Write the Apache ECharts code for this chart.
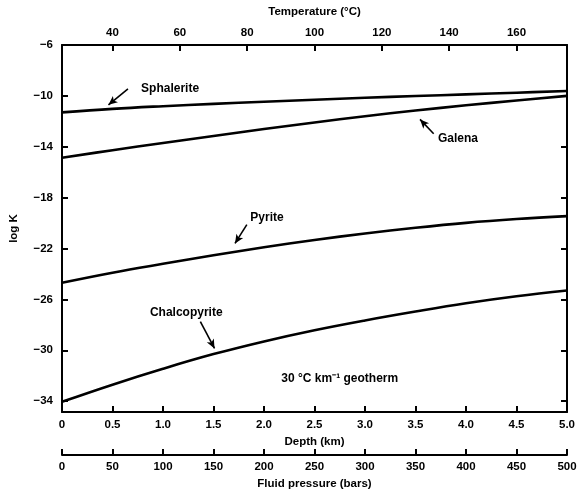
<!DOCTYPE html>
<html>
<head>
<meta charset="utf-8">
<script src="https://cdn.jsdelivr.net/npm/echarts@6/dist/echarts.min.js"></script>
<style>
html,body{margin:0;padding:0;background:#fff;}
#c{width:582px;height:491px;}
</style>
</head>
<body>
<div id="c"></div>
<script>
// ---- data ----
var depthKm = [0, 0.5, 1.0, 1.5, 2.0, 2.5, 3.0, 3.5, 4.0, 4.5, 5.0];
var sphalerite   = [-11.3, -11.02, -10.81, -10.63, -10.46, -10.3, -10.15, -10.01, -9.88, -9.75, -9.62];
var galena       = [-14.86, -14.27, -13.7, -13.15, -12.61, -12.09, -11.6, -11.15, -10.74, -10.36, -10.0];
var pyrite       = [-24.69, -23.9, -23.2, -22.53, -21.9, -21.33, -20.82, -20.37, -19.98, -19.68, -19.45];
var chalcopyrite = [-34.05, -32.7, -31.45, -30.3, -29.3, -28.42, -27.65, -26.95, -26.3, -25.75, -25.3];
var logKTicks = [-34, -30, -26, -22, -18, -14, -10, -6];
var tempTicks = [40, 60, 80, 100, 120, 140, 160];
var pressureTicks = [0, 50, 100, 150, 200, 250, 300, 350, 400, 450, 500];

function pairs(vals){ return depthKm.map(function(d,i){ return [d, vals[i]]; }); }

var FONT = 'Liberation Sans';
var txt = {color:'#000', fontFamily: FONT, fontWeight:'bold', fontSize: 11.5};
var axisLine = {show:true, onZero:false, lineStyle:{color:'#000', width:2}};
var tick = {show:true, inside:true, length:6, lineStyle:{color:'#000', width:2}};

function annot(text, x, y){
  return {coord:[x,y], symbol:'rect', symbolSize:1, itemStyle:{color:'rgba(0,0,0,0)'},
    label:{show:true, position:'inside', formatter:text, color:'#000', fontFamily:FONT, fontWeight:'bold', fontSize:12}};
}
function arrow(x1,y1,x2,y2){
  return [{coord:[x1,y1]},{coord:[x2,y2]}];
}
function curve(name, vals, arrows, labels){
  return {
    name:name, type:'line', xAxisIndex:0, yAxisIndex:0, smooth:0.4, showSymbol:false,
    data: pairs(vals), lineStyle:{color:'#000', width:2.6}, itemStyle:{color:'#000'}, silent:true,
    markLine:{silent:true, symbol:['none','arrow'], symbolSize:[6,9], animation:false,
      lineStyle:{color:'#000', width:1.6, type:'solid'}, label:{show:false}, data: arrows},
    markPoint:{silent:true, animation:false, data: labels}
  };
}

var chart = echarts.init(document.getElementById('c'), null, {renderer:'canvas'});
chart.setOption({
  animation:false,
  backgroundColor:'#fff',
  grid:{left:62, right:15, top:45, bottom:79, containLabel:false, outerBoundsMode:'none'},
  xAxis:[
    {type:'value', position:'bottom', min:0, max:5, interval:0.5,
     name:'Depth (km)', nameLocation:'middle', nameGap:21, nameTextStyle:txt,
     axisLine:axisLine, axisTick:tick, splitLine:{show:false},
     axisLabel:Object.assign({margin:7, formatter:function(v){return v===0?'0':v.toFixed(1);}}, txt)},
    {type:'value', position:'top', min:25, max:175,
     name:'Temperature (°C)', nameLocation:'middle', nameGap:27, nameTextStyle:txt,
     axisLine:axisLine, axisTick:Object.assign({customValues:tempTicks}, tick), splitLine:{show:false},
     axisLabel:Object.assign({margin:6, customValues:tempTicks}, txt)},
    {type:'value', position:'bottom', offset:43, min:0, max:500, interval:50,
     name:'Fluid pressure (bars)', nameLocation:'middle', nameGap:22, nameTextStyle:txt,
     axisLine:axisLine, axisTick:tick, splitLine:{show:false},
     axisLabel:Object.assign({margin:6, customValues:pressureTicks}, txt)}
  ],
  yAxis:[
    {type:'value', position:'left', min:-34.85, max:-6,
     name:'log K', nameLocation:'middle', nameGap:42, nameRotate:90, nameTextStyle:txt,
     axisLine:axisLine, axisTick:Object.assign({customValues:logKTicks}, tick), splitLine:{show:false},
     axisLabel:Object.assign({margin:9, customValues:logKTicks, formatter:function(v){return v<0?'\u2212'+Math.abs(v):String(v);}}, txt)},
    {type:'value', position:'right', min:-34.85, max:-6,
     axisLine:axisLine, axisTick:Object.assign({customValues:logKTicks}, tick), splitLine:{show:false},
     axisLabel:{show:false}}
  ],
  series:[
    curve('Sphalerite', sphalerite, [arrow(0.653,-9.45,0.46,-10.7)], [annot('Sphalerite', 1.07, -9.4)]),
    curve('Galena', galena, [arrow(3.68,-12.98,3.545,-11.85)], [annot('Galena', 3.92, -13.35)]),
    curve('Pyrite', pyrite, [arrow(1.83,-20.12,1.713,-21.6)], [annot('Pyrite', 2.03, -19.55)]),
    curve('Chalcopyrite', chalcopyrite, [arrow(1.37,-27.75,1.51,-29.85)], [annot('Chalcopyrite', 1.23, -27.08)]),
    {type:'line', xAxisIndex:0, yAxisIndex:0, data:[], silent:true,
     markPoint:{silent:true, animation:false, data:[annot('30 °C km\u207B\u00B9 geotherm', 2.75, -32.27)]}}
  ]
});
</script>
</body>
</html>
